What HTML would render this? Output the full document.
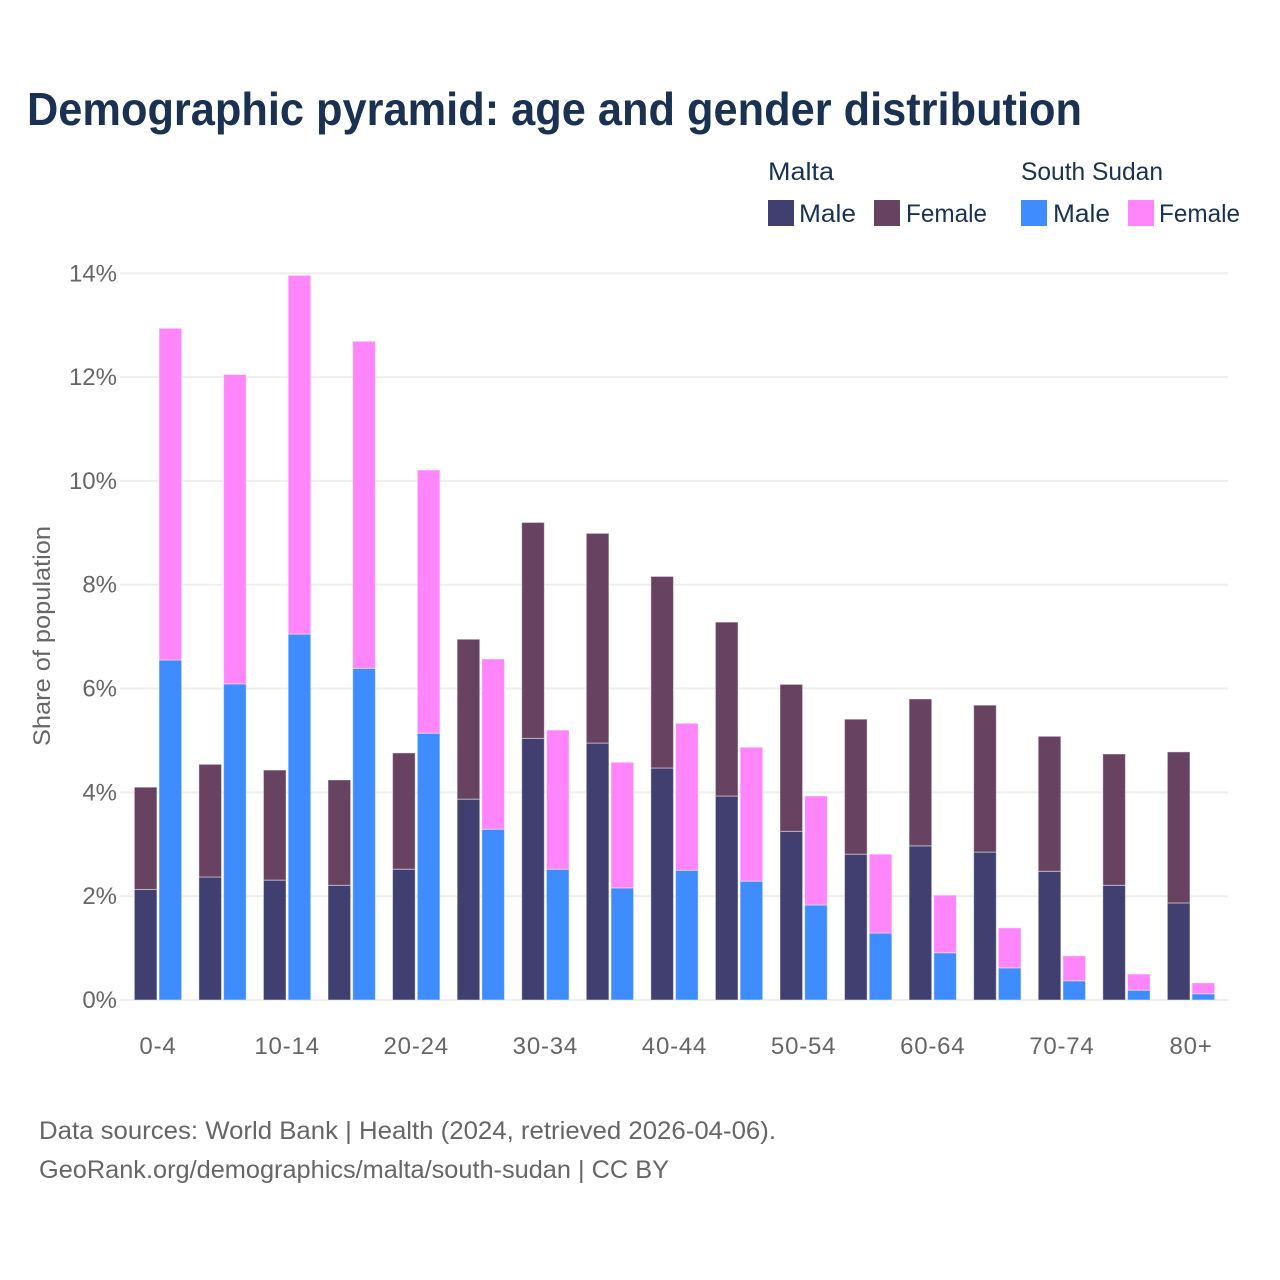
<!DOCTYPE html>
<html lang="en">
<head>
<meta charset="utf-8">
<title>Demographic pyramid: age and gender distribution</title>
<style>
html,body{margin:0;padding:0;background:#fff;width:1280px;height:1280px;overflow:hidden}
svg{display:block;font-family:"Liberation Sans",Arial,sans-serif}
</style>
</head>
<body>
<svg id="chart" width="1280" height="1280" viewBox="0 0 1280 1280" xmlns="http://www.w3.org/2000/svg">
<rect x="0" y="0" width="1280" height="1280" fill="#ffffff"/>
<text x="27" y="125" font-size="46" font-weight="700" fill="#1a3152" textLength="1055" lengthAdjust="spacingAndGlyphs">Demographic pyramid: age and gender distribution</text>

<g font-size="25" fill="#1a3152">
<text x="768" y="180" textLength="66" lengthAdjust="spacingAndGlyphs">Malta</text>
<text x="1021" y="180" textLength="142" lengthAdjust="spacingAndGlyphs">South Sudan</text>
<rect x="768" y="200" width="26" height="26" fill="#413f70"/>
<text x="799" y="222" textLength="57" lengthAdjust="spacingAndGlyphs">Male</text>
<rect x="874" y="200" width="26" height="26" fill="#684261"/>
<text x="906" y="222" textLength="81" lengthAdjust="spacingAndGlyphs">Female</text>
<rect x="1021" y="200" width="26" height="26" fill="#3f8cff"/>
<text x="1053" y="222" textLength="57" lengthAdjust="spacingAndGlyphs">Male</text>
<rect x="1128" y="200" width="26" height="26" fill="#ff85fa"/>
<text x="1159" y="222" textLength="81" lengthAdjust="spacingAndGlyphs">Female</text>
</g>

<g id="grid"></g>
<g id="bars"></g>
<g id="yticks"></g>
<g id="xticks"></g>

<text transform="translate(50,636) rotate(-90)" text-anchor="middle" font-size="24" fill="#666666" textLength="220" lengthAdjust="spacingAndGlyphs">Share of population</text>

<text x="39" y="1139" font-size="25" fill="#666666" textLength="737" lengthAdjust="spacingAndGlyphs">Data sources: World Bank | Health (2024, retrieved 2026-04-06).</text>
<text x="39" y="1178" font-size="25" fill="#666666" textLength="630" lengthAdjust="spacingAndGlyphs">GeoRank.org/demographics/malta/south-sudan | CC BY</text>
</svg>
<script>
const categories = ["0-4","5-9","10-14","15-19","20-24","25-29","30-34","35-39","40-44","45-49","50-54","55-59","60-64","65-69","70-74","75-79","80+"];
const maltaMale = [2.13,2.37,2.31,2.21,2.52,3.87,5.04,4.95,4.47,3.93,3.25,2.81,2.97,2.85,2.48,2.21,1.87];
const maltaFemale = [1.97,2.17,2.12,2.03,2.24,3.08,4.16,4.04,3.69,3.35,2.83,2.60,2.83,2.83,2.60,2.53,2.91];
const southSudanMale = [6.55,6.09,7.05,6.39,5.14,3.29,2.52,2.16,2.50,2.29,1.83,1.29,0.91,0.62,0.37,0.19,0.12];
const southSudanFemale = [6.39,5.96,6.91,6.30,5.07,3.28,2.68,2.42,2.83,2.58,2.10,1.52,1.11,0.77,0.48,0.31,0.21];
const yTicks = [0,2,4,6,8,10,12,14];

const NS = "http://www.w3.org/2000/svg";
const plot = {left:125.7, right:1223.3, gridLeft:120, gridRight:1228, top:273.3, bottom:1000, max:14};
const barWidth = 22.6, barGap = 2.1;
const bandwidth = (plot.right - plot.left) / categories.length;
const xCenter = i => plot.left + bandwidth * (i + 0.5);
const yScale = v => plot.bottom - (v / plot.max) * (plot.bottom - plot.top);

function make(tag, attrs, parent, text) {
  const el = document.createElementNS(NS, tag);
  for (const k in attrs) el.setAttribute(k, attrs[k]);
  if (text !== undefined) el.textContent = text;
  parent.appendChild(el);
  return el;
}

const gridG = document.getElementById("grid");
const yG = document.getElementById("yticks");
const xG = document.getElementById("xticks");
const barsG = document.getElementById("bars");

yTicks.forEach(t => {
  const line = make("line", {x1:plot.gridLeft, x2:plot.gridRight, y1:yScale(t), y2:yScale(t), stroke:"#eeeeee", "stroke-width":2}, gridG);
  
  
  const label = make("text", {x:117, y:yScale(t) + 8, "text-anchor":"end", "font-size":24, fill:"#666666"}, yG, t + "%");
  
  
});

function drawSegment(x, base, value, fill) {
  const yTop = yScale(base + value);
  const yBottom = yScale(base);
  const bar = make("rect", {x:x, y:yTop, width:barWidth, height:yBottom - yTop, fill:fill, stroke:"#ffffff", "stroke-opacity":0.45, "stroke-width":1}, barsG);
  
  
}

categories.forEach((c, i) => {
  const cx = xCenter(i);
  const leftX = cx - barGap / 2 - barWidth;
  const rightX = cx + barGap / 2;
  drawSegment(leftX, 0, maltaMale[i], "#413f70");
  drawSegment(leftX, maltaMale[i], maltaFemale[i], "#684261");
  drawSegment(rightX, 0, southSudanMale[i], "#3f8cff");
  drawSegment(rightX, southSudanMale[i], southSudanFemale[i], "#ff85fa");
  if (i % 2 === 0) {
    const label = make("text", {x:cx, y:1054, "text-anchor":"middle", "font-size":24, "letter-spacing":0.8, fill:"#666666"}, xG, c);
    
    
  }
});
</script>
</body>
</html>
